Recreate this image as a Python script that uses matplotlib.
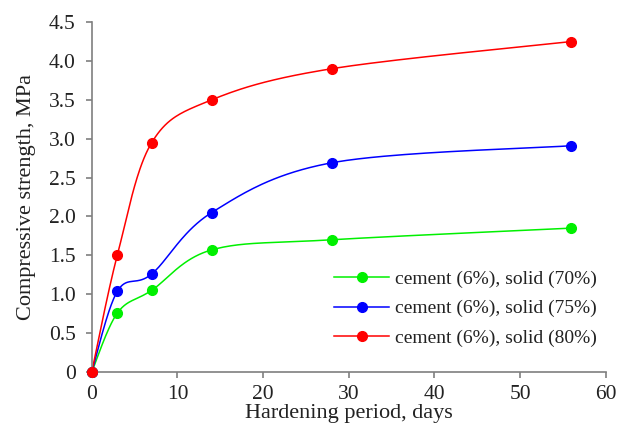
import numpy as np
import matplotlib
matplotlib.use("Agg")
import matplotlib.pyplot as plt

days = [0, 3, 7, 14, 28, 56]
s70 = [0, 0.76, 1.05, 1.57, 1.70, 1.85]
s75 = [0, 1.04, 1.26, 2.05, 2.69, 2.91]
s80 = [0, 1.51, 2.95, 3.50, 3.90, 4.25]
labels = ["cement (6%), solid (70%)", "cement (6%), solid (75%)", "cement (6%), solid (80%)"]
colors = ["#00f000", "#0000ff", "#ff0000"]
yticks = [0, 0.5, 1.0, 1.5, 2.0, 2.5, 3.0, 3.5, 4.0, 4.5]
yticklabels = ["0", "0.5", "1.0", "1.5", "2.0", "2.5", "3.0", "3.5", "4.0", "4.5"]
xticks = [0, 10, 20, 30, 40, 50, 60]

plt.rcParams['font.family'] = ['Liberation Serif', 'DejaVu Serif']

def smooth(x, y, n=40):
    P = np.column_stack([np.array(x, float) / 60.0, np.array(y, float) / 4.5])
    m = len(P)
    out = []
    t = np.linspace(0, 1, n)[:, None]
    for i in range(m - 1):
        p0 = P[max(i - 1, 0)]
        p1 = P[i]
        p2 = P[i + 1]
        p3 = P[min(i + 2, m - 1)]
        c1 = p1 + (p2 - p0) / 6.0
        c2 = p2 - (p3 - p1) / 6.0
        seg = ((1 - t) ** 3) * p1 + 3 * ((1 - t) ** 2) * t * c1 + 3 * (1 - t) * t ** 2 * c2 + t ** 3 * p2
        out.append(seg)
    Q = np.vstack(out)
    return Q[:, 0] * 60.0, Q[:, 1] * 4.5

fig = plt.figure(figsize=(6.2, 4.33), dpi=100)
ax = fig.add_axes([0.148, 0.141, 0.829, 0.808])

for ys, lab, c in zip([s70, s75, s80], labels, colors):
    sx, sy = smooth(days, ys)
    ax.plot(sx, sy, color=c, lw=1.1, zorder=2)
    ax.plot(days, ys, 'o', color=c, ms=7, zorder=3)
    ax.plot([], [], '-o', color=c, lw=1.1, ms=7, label=lab)

ax.set_xlim(0, 60)
ax.set_ylim(0, 4.5)
ax.set_xticks(xticks)
ax.set_yticks(yticks)
ax.set_yticklabels(yticklabels)
for s in ['top', 'right']:
    ax.spines[s].set_visible(False)
for s in ['left', 'bottom']:
    ax.spines[s].set_color('#7f7f7f')
    ax.spines[s].set_linewidth(1.2)
ax.tick_params(direction='out', length=4.5, width=1.2, color='#7f7f7f', labelsize=15.5, labelcolor='#222222')
ax.tick_params(axis='y', pad=7)
ax.tick_params(axis='x', pad=5)
ax.set_xlabel("Hardening period, days", fontsize=16, color='#222222', labelpad=0)
ax.set_ylabel("Compressive strength, MPa", fontsize=16, color='#222222', labelpad=9)
for line in ax.lines:
    line.set_clip_on(False)

leg = ax.legend(loc='lower right', bbox_to_anchor=(1.016, 0.021), frameon=False, fontsize=14,
                handlelength=2.8, handletextpad=0.3, labelspacing=0.62, labelcolor='#222222')

fig.savefig("out.png", dpi=100)
